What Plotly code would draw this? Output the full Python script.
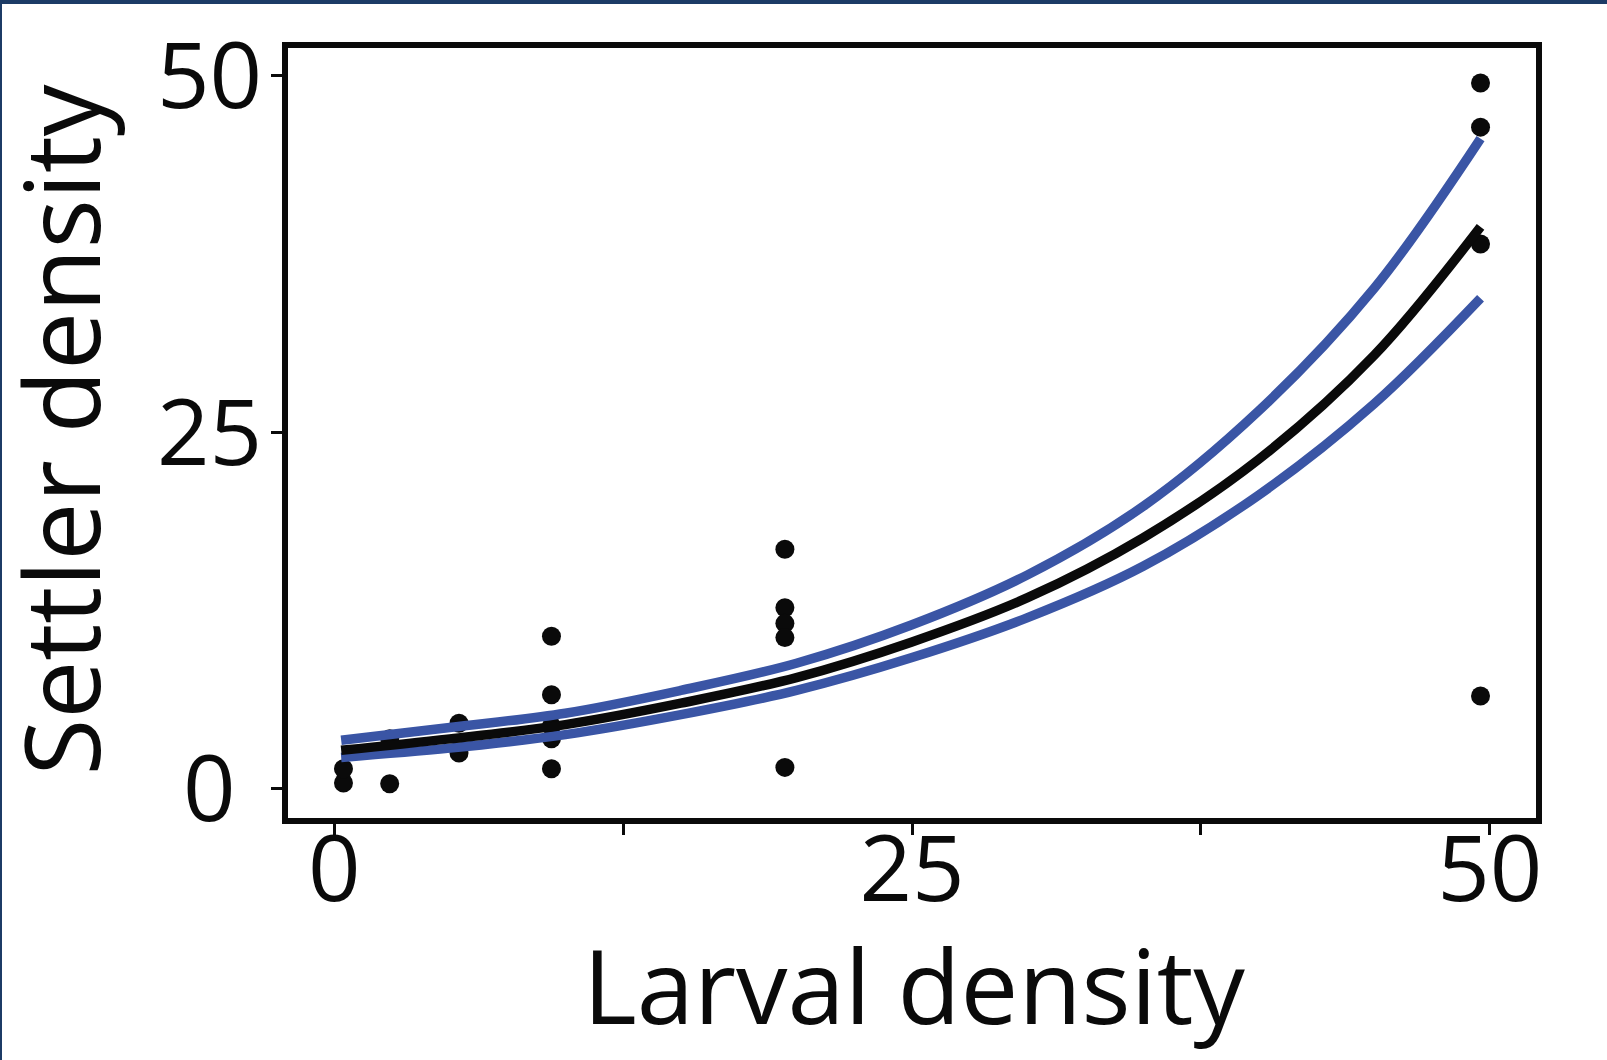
import plotly.graph_objects as go

# ---- data ----
pts_x = [0.4, 0.4, 2.4, 2.4, 5.4, 5.4, 9.4, 9.4, 9.4, 9.4, 9.4,
         19.5, 19.5, 19.5, 19.5, 19.5, 49.6, 49.6, 49.6, 49.6]
pts_y = [0.4, 1.4, 0.35, 3.5, 4.6, 2.5, 10.7, 6.6, 4.4, 3.5, 1.4,
         16.8, 12.7, 11.6, 10.6, 1.5, 49.5, 46.4, 38.2, 6.5]

curve_x = [0.3, 5, 10, 15, 20, 25, 30, 35, 40, 45, 49.6]
fit_y = [2.7, 3.5, 4.5, 6.0, 7.8, 10.3, 13.4, 17.6, 23.1, 30.4, 39.4]
upper_y = [3.4, 4.3, 5.3, 6.9, 8.8, 11.5, 15.0, 19.8, 26.5, 35.1, 45.6]
lower_y = [2.2, 2.85, 3.8, 5.2, 6.9, 9.2, 12.0, 15.6, 20.6, 27.0, 34.4]

x_ticks = [0, 12.5, 25, 37.5, 50]
x_ticktext = ["0", "", "25", "", "50"]
y_ticks = [0, 25, 50]
y_ticktext = ["0", "25", "50"]

FONT = "Open Sans"
BLUE = "#3a55a5"
INK = "#0a0a0a"
NAVY = "#1c3b66"

W, H = 1607, 1060
ML, MR, MT, MB = 288, 71, 48, 242
pw = W - ML - MR
ph = H - MT - MB

fig = go.Figure()
fig.add_trace(go.Scatter(x=pts_x, y=pts_y, mode="markers",
                         marker=dict(color=INK, size=19), showlegend=False))
fig.add_trace(go.Scatter(x=curve_x, y=upper_y, mode="lines", line_shape="spline",
                         line=dict(color=BLUE, width=9.5), showlegend=False))
fig.add_trace(go.Scatter(x=curve_x, y=lower_y, mode="lines", line_shape="spline",
                         line=dict(color=BLUE, width=9.5), showlegend=False))
fig.add_trace(go.Scatter(x=curve_x, y=fit_y, mode="lines", line_shape="spline",
                         line=dict(color=INK, width=9.5), showlegend=False))

axis_common = dict(showgrid=False, zeroline=False, showline=True, mirror=True,
                   linecolor=INK, linewidth=6, ticks="outside", ticklen=11,
                   tickwidth=3, tickcolor=INK,
                   tickfont=dict(family=FONT, size=92, color=INK))

fig.update_xaxes(range=[-2, 52], tickvals=x_ticks, ticktext=x_ticktext,
                 ticklabelstandoff=-44, **axis_common)
fig.update_yaxes(range=[-2.05, 51.95], tickvals=y_ticks, ticktext=y_ticktext,
                 showticklabels=False, **axis_common)

# y tick labels are centred on a common column in the original
for v, t in zip(y_ticks, y_ticktext):
    fig.add_annotation(text=t, xref="paper", yref="y", x=(209 - ML) / pw, y=v,
                       xanchor="center", yanchor="middle", yshift=3, showarrow=False,
                       font=dict(family=FONT, size=92, color=INK))

fig.add_annotation(text="Larval density", xref="paper", yref="paper",
                   x=(914 - ML) / pw, y=-(1056 - (H - MB)) / ph,
                   xanchor="center", yanchor="bottom", showarrow=False,
                   font=dict(family=FONT, size=103, color=INK))
fig.add_annotation(text="Settler density", xref="paper", yref="paper",
                   x=(131 - ML) / pw, y=((MT + ph) - 430) / ph,
                   xanchor="right", yanchor="middle", textangle=-90, showarrow=False,
                   font=dict(family=FONT, size=103.5, color=INK))

# dark frame edges (top and left) of the original figure
fig.add_shape(type="rect", xref="paper", yref="paper",
              x0=-ML / pw, x1=(W - ML) / pw, y0=1 + (MT - 4) / ph, y1=1 + MT / ph,
              fillcolor=NAVY, line_width=0, layer="above")
fig.add_shape(type="rect", xref="paper", yref="paper",
              x0=-ML / pw, x1=(2 - ML) / pw, y0=-MB / ph, y1=1 + MT / ph,
              fillcolor=NAVY, line_width=0, layer="above")

fig.update_layout(width=W, height=H, margin=dict(l=ML, r=MR, t=MT, b=MB),
                  plot_bgcolor="white", paper_bgcolor="white",
                  font=dict(family=FONT, color=INK))

fig.write_html("out.html", config={"displayModeBar": False},
               post_script="document.body.style.margin='0';document.body.style.overflow='hidden';")
